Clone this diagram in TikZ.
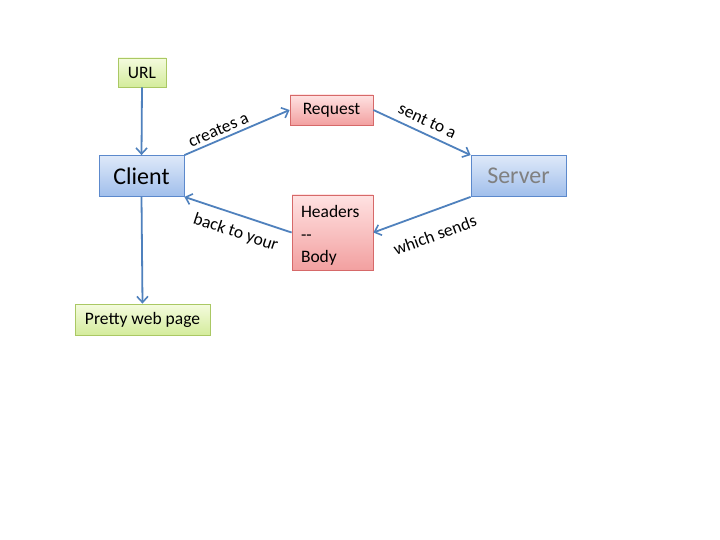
\documentclass[tikz,border=0pt]{standalone}
\usepackage{fontspec}
\setmainfont{Carlito}
\usetikzlibrary{arrows.meta}
\definecolor{arrowblue}{RGB}{79,129,189}
\definecolor{blueedge}{RGB}{92,137,204}
\definecolor{bluetop}{RGB}{222,233,249}
\definecolor{bluebot}{RGB}{160,190,235}
\definecolor{rededge}{RGB}{214,105,105}
\definecolor{redtop}{RGB}{255,226,226}
\definecolor{redbot}{RGB}{242,160,160}
\definecolor{greenedge}{RGB}{170,200,100}
\definecolor{greentop}{RGB}{244,251,222}
\definecolor{greenbot}{RGB}{212,236,156}
\definecolor{servergrey}{RGB}{128,128,128}
\tikzset{
  x=1pt, y=-1pt,
  box/.style={draw, line width=0.8pt, inner sep=0pt, font=\fontsize{17.5}{21}\selectfont},
  bluebox/.style={box, draw=blueedge, top color=bluetop, bottom color=bluebot,
    minimum width=85pt, minimum height=41pt, font=\fontsize{24}{28}\selectfont},
  redbox/.style={box, draw=rededge, top color=redtop, bottom color=redbot},
  greenbox/.style={box, draw=greenedge, top color=greentop, bottom color=greenbot},
  link/.style={draw=arrowblue, line width=1.8pt,
    -{Straight Barb[length=6pt,width=11pt,line width=1.6pt]}},
  lbl/.style={font=\fontsize{17.5}{21}\selectfont, sloped}
}
\begin{document}
\begin{tikzpicture}
\useasboundingbox (0,0) rectangle (720,540);
\fill[white] (0,0) rectangle (720,540);

\node[greenbox, minimum width=48pt, minimum height=29pt] (url) at (142,72.5) {URL};
\node[bluebox] (client) at (141.5,176) {Client};
\node[redbox, minimum width=83pt, minimum height=30pt] (request) at (331.5,110) {Request};
\node[bluebox, minimum width=95pt, text=servergrey] (server) at (518.5,176) {Server};
\node[redbox, minimum width=81pt, minimum height=75pt] (resp) at (332.5,232.5) {};
\node[inner sep=0pt, text width=63pt, align=left, font=\fontsize{17.5}{22.5}\selectfont,
      yshift=-3pt] (resptext) at (resp.center) {Headers\\{-}{-}\\Body};
\node[greenbox, minimum width=135pt, minimum height=31pt] (page) at (142.5,319.5) {Pretty web page};

\draw[link] (url.south) -- (client.north);
\draw[link] (client.north east) -- node[lbl, above=0pt, pos=0.36] {creates a} (request.west);
\draw[link] (request.east) -- node[lbl, above=3pt, pos=0.5] {sent to a} (server.north west);
\draw[link] (server.south west) -- node[lbl, below=13pt, pos=0.45] {which sends} (resp.east);
\draw[link] (resp.west) -- node[lbl, below=6pt, pos=0.47] {back to your} (client.south east);
\draw[link] (client.south) -- (page.north);
\end{tikzpicture}
\end{document}
